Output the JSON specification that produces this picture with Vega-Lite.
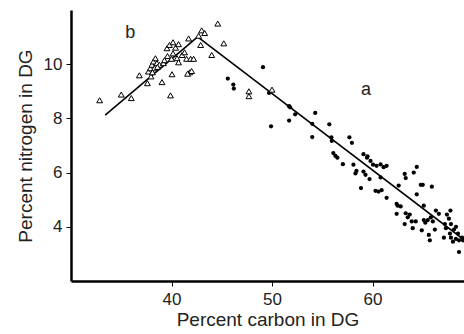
{
  "$schema": "https://vega.github.io/schema/vega-lite/v6.json",
  "width": 393,
  "height": 271,
  "autosize": "none",
  "padding": {"left": 71, "top": 10, "right": 0, "bottom": 53},
  "background": "white",
  "config": {
    "view": {"stroke": null},
    "font": "Liberation Sans",
    "axis": {
      "grid": false,
      "domainColor": "black",
      "domainWidth": 2.5,
      "tickColor": "black",
      "tickWidth": 1,
      "tickSize": 5,
      "labelFont": "Liberation Sans",
      "titleFont": "Liberation Sans",
      "labelFontSize": 17,
      "titleFontSize": 19,
      "titleFontWeight": "normal",
      "labelColor": "#222",
      "titleColor": "#222"
    }
  },
  "datasets": {
    "pts": [
      {"c": 32.85, "n": 8.67, "g": "b"}, {"c": 35.0, "n": 8.88, "g": "b"}, {"c": 36.0, "n": 8.75, "g": "b"},
      {"c": 36.8, "n": 9.59, "g": "b"}, {"c": 37.6, "n": 9.30, "g": "b"}, {"c": 37.7, "n": 9.73, "g": "b"},
      {"c": 37.9, "n": 9.85, "g": "b"}, {"c": 38.05, "n": 9.98, "g": "b"}, {"c": 38.2, "n": 10.1, "g": "b"},
      {"c": 38.4, "n": 10.22, "g": "b"}, {"c": 38.55, "n": 10.04, "g": "b"}, {"c": 38.3, "n": 9.85, "g": "b"},
      {"c": 38.8, "n": 9.98, "g": "b"}, {"c": 39.2, "n": 10.04, "g": "b"}, {"c": 37.96, "n": 9.55, "g": "b"},
      {"c": 38.1, "n": 9.7, "g": "b"}, {"c": 38.6, "n": 9.9, "g": "b"}, {"c": 39.05, "n": 9.34, "g": "b"},
      {"c": 39.9, "n": 8.85, "g": "b"}, {"c": 40.05, "n": 9.63, "g": "b"}, {"c": 39.55, "n": 10.59, "g": "b"},
      {"c": 39.8, "n": 10.71, "g": "b"}, {"c": 40.15, "n": 10.81, "g": "b"}, {"c": 40.4, "n": 10.61, "g": "b"},
      {"c": 40.7, "n": 10.74, "g": "b"}, {"c": 40.15, "n": 10.4, "g": "b"}, {"c": 40.55, "n": 10.22, "g": "b"},
      {"c": 41.05, "n": 10.34, "g": "b"}, {"c": 41.3, "n": 10.44, "g": "b"}, {"c": 40.7, "n": 10.07, "g": "b"},
      {"c": 41.5, "n": 10.2, "g": "b"}, {"c": 41.9, "n": 10.2, "g": "b"}, {"c": 42.2, "n": 10.2, "g": "b"},
      {"c": 41.7, "n": 10.95, "g": "b"}, {"c": 41.8, "n": 9.7, "g": "b"}, {"c": 42.0, "n": 9.75, "g": "b"},
      {"c": 41.6, "n": 9.65, "g": "b"}, {"c": 42.7, "n": 11.05, "g": "b"}, {"c": 43.0, "n": 11.25, "g": "b"},
      {"c": 43.3, "n": 11.15, "g": "b"}, {"c": 42.9, "n": 10.71, "g": "b"}, {"c": 44.0, "n": 10.34, "g": "b"},
      {"c": 44.6, "n": 11.5, "g": "b"}, {"c": 45.2, "n": 10.77, "g": "b"}, {"c": 47.7, "n": 9.0, "g": "b"},
      {"c": 47.7, "n": 8.82, "g": "b"}, {"c": 50.0, "n": 9.06, "g": "b"}, {"c": 39.6, "n": 10.3, "g": "b"},
      {"c": 40.0, "n": 10.2, "g": "b"}, {"c": 39.3, "n": 10.15, "g": "b"},
      {"c": 45.6, "n": 9.47, "g": "a"}, {"c": 46.15, "n": 9.25, "g": "a"}, {"c": 46.2, "n": 9.1, "g": "a"},
      {"c": 49.1, "n": 9.89, "g": "a"}, {"c": 49.7, "n": 8.94, "g": "a"}, {"c": 49.9, "n": 7.71, "g": "a"},
      {"c": 51.7, "n": 8.45, "g": "a"}, {"c": 51.8, "n": 8.41, "g": "a"}, {"c": 52.3, "n": 8.15, "g": "a"},
      {"c": 51.7, "n": 7.92, "g": "a"}, {"c": 54.3, "n": 8.2, "g": "a"}, {"c": 54.0, "n": 7.8, "g": "a"},
      {"c": 54.0, "n": 7.31, "g": "a"}, {"c": 55.7, "n": 7.78, "g": "a"}, {"c": 55.9, "n": 7.3, "g": "a"},
      {"c": 55.95, "n": 7.17, "g": "a"}, {"c": 56.1, "n": 6.72, "g": "a"}, {"c": 56.3, "n": 6.62, "g": "a"},
      {"c": 56.5, "n": 6.55, "g": "a"}, {"c": 57.05, "n": 6.31, "g": "a"}, {"c": 57.95, "n": 7.1, "g": "a"},
      {"c": 57.7, "n": 7.3, "g": "a"}, {"c": 58.1, "n": 6.29, "g": "a"}, {"c": 58.3, "n": 5.97, "g": "a"},
      {"c": 58.4, "n": 6.06, "g": "a"}, {"c": 59.1, "n": 6.68, "g": "a"}, {"c": 59.45, "n": 6.55, "g": "a"},
      {"c": 59.8, "n": 6.43, "g": "a"}, {"c": 60.05, "n": 6.29, "g": "a"}, {"c": 59.1, "n": 6.04, "g": "a"},
      {"c": 59.3, "n": 5.92, "g": "a"}, {"c": 59.5, "n": 6.6, "g": "a"}, {"c": 59.7, "n": 5.76, "g": "a"},
      {"c": 60.4, "n": 6.25, "g": "a"}, {"c": 60.8, "n": 6.3, "g": "a"}, {"c": 61.1, "n": 6.2, "g": "a"},
      {"c": 61.4, "n": 6.25, "g": "a"}, {"c": 60.8, "n": 5.82, "g": "a"}, {"c": 58.85, "n": 5.43, "g": "a"},
      {"c": 60.3, "n": 5.33, "g": "a"}, {"c": 60.6, "n": 5.3, "g": "a"}, {"c": 60.9, "n": 5.35, "g": "a"},
      {"c": 61.4, "n": 5.07, "g": "a"}, {"c": 62.4, "n": 4.85, "g": "a"}, {"c": 62.5, "n": 4.78, "g": "a"},
      {"c": 62.8, "n": 4.75, "g": "a"}, {"c": 62.4, "n": 4.48, "g": "a"}, {"c": 62.6, "n": 5.52, "g": "a"},
      {"c": 63.2, "n": 5.95, "g": "a"}, {"c": 63.3, "n": 5.8, "g": "a"}, {"c": 64.1, "n": 6.0, "g": "a"},
      {"c": 64.4, "n": 6.21, "g": "a"}, {"c": 64.8, "n": 5.55, "g": "a"}, {"c": 65.0, "n": 5.55, "g": "a"},
      {"c": 65.9, "n": 5.48, "g": "a"}, {"c": 64.4, "n": 5.2, "g": "a"}, {"c": 63.3, "n": 4.5, "g": "a"},
      {"c": 63.5, "n": 4.35, "g": "a"}, {"c": 63.7, "n": 4.45, "g": "a"}, {"c": 63.9, "n": 4.2, "g": "a"},
      {"c": 64.3, "n": 4.2, "g": "a"}, {"c": 63.2, "n": 4.1, "g": "a"}, {"c": 64.0, "n": 3.95, "g": "a"},
      {"c": 64.9, "n": 3.87, "g": "a"}, {"c": 65.1, "n": 4.78, "g": "a"}, {"c": 65.1, "n": 4.25, "g": "a"},
      {"c": 65.25, "n": 4.15, "g": "a"}, {"c": 65.5, "n": 4.25, "g": "a"}, {"c": 65.8, "n": 4.35, "g": "a"},
      {"c": 66.0, "n": 4.2, "g": "a"}, {"c": 65.6, "n": 3.7, "g": "a"}, {"c": 65.7, "n": 3.5, "g": "a"},
      {"c": 66.6, "n": 4.48, "g": "a"}, {"c": 67.75, "n": 4.6, "g": "a"}, {"c": 67.4, "n": 4.45, "g": "a"},
      {"c": 67.6, "n": 4.3, "g": "a"}, {"c": 67.2, "n": 4.1, "g": "a"}, {"c": 67.3, "n": 3.95, "g": "a"},
      {"c": 67.8, "n": 4.1, "g": "a"}, {"c": 68.1, "n": 3.9, "g": "a"}, {"c": 67.7, "n": 3.75, "g": "a"},
      {"c": 67.8, "n": 3.6, "g": "a"}, {"c": 67.1, "n": 3.6, "g": "a"}, {"c": 68.0, "n": 3.45, "g": "a"},
      {"c": 68.3, "n": 3.55, "g": "a"}, {"c": 68.5, "n": 3.75, "g": "a"}, {"c": 68.6, "n": 3.5, "g": "a"},
      {"c": 68.3, "n": 4.0, "g": "a"}, {"c": 68.6, "n": 3.07, "g": "a"}, {"c": 68.9, "n": 3.6, "g": "a"},
      {"c": 69.0, "n": 3.5, "g": "a"}, {"c": 66.3, "n": 4.6, "g": "a"}, {"c": 66.2, "n": 3.9, "g": "a"}
    ],
    "fits": [
      {"c": 33.4, "n": 8.12, "line": "b", "o": 1}, {"c": 42.6, "n": 11.01, "line": "b", "o": 2},
      {"c": 42.6, "n": 11.01, "line": "a", "o": 1}, {"c": 69.1, "n": 3.52, "line": "a", "o": 2}
    ],
    "labels": [
      {"c": 35.9, "n": 11.15, "t": "b"}, {"c": 59.35, "n": 9.06, "t": "a"}
    ]
  },
  "layer": [
    {
      "data": {"name": "fits"},
      "mark": {"type": "line", "color": "black", "strokeWidth": 1.6, "clip": true},
      "encoding": {
        "x": {"field": "c", "type": "quantitative", "scale": {"domain": [30, 69.1], "nice": false, "zero": false},
              "axis": {"values": [40, 50, 60], "title": "Percent carbon in DG", "labelPadding": 5, "titlePadding": 3}},
        "y": {"field": "n", "type": "quantitative", "scale": {"domain": [2, 12], "nice": false, "zero": false},
              "axis": {"values": [4, 6, 8, 10], "title": "Percent nitrogen in DG", "labelPadding": 4, "titlePadding": 8}},
        "detail": {"field": "line"},
        "order": {"field": "o"}
      }
    },
    {
      "data": {"name": "pts"},
      "transform": [{"filter": "datum.g === 'a'"}],
      "mark": {"type": "point", "shape": "circle", "filled": true, "color": "black", "size": 18, "opacity": 1, "clip": true},
      "encoding": {
        "x": {"field": "c", "type": "quantitative"},
        "y": {"field": "n", "type": "quantitative"}
      }
    },
    {
      "data": {"name": "pts"},
      "transform": [{"filter": "datum.g === 'b'"}],
      "mark": {"type": "point", "shape": "triangle-up", "filled": true, "fill": "white", "stroke": "black", "strokeWidth": 1, "size": 34, "opacity": 1, "clip": true},
      "encoding": {
        "x": {"field": "c", "type": "quantitative"},
        "y": {"field": "n", "type": "quantitative"}
      }
    },
    {
      "data": {"name": "labels"},
      "mark": {"type": "text", "fontSize": 18, "font": "Liberation Sans", "color": "#222"},
      "encoding": {
        "x": {"field": "c", "type": "quantitative"},
        "y": {"field": "n", "type": "quantitative"},
        "text": {"field": "t"}
      }
    }
  ]
}
